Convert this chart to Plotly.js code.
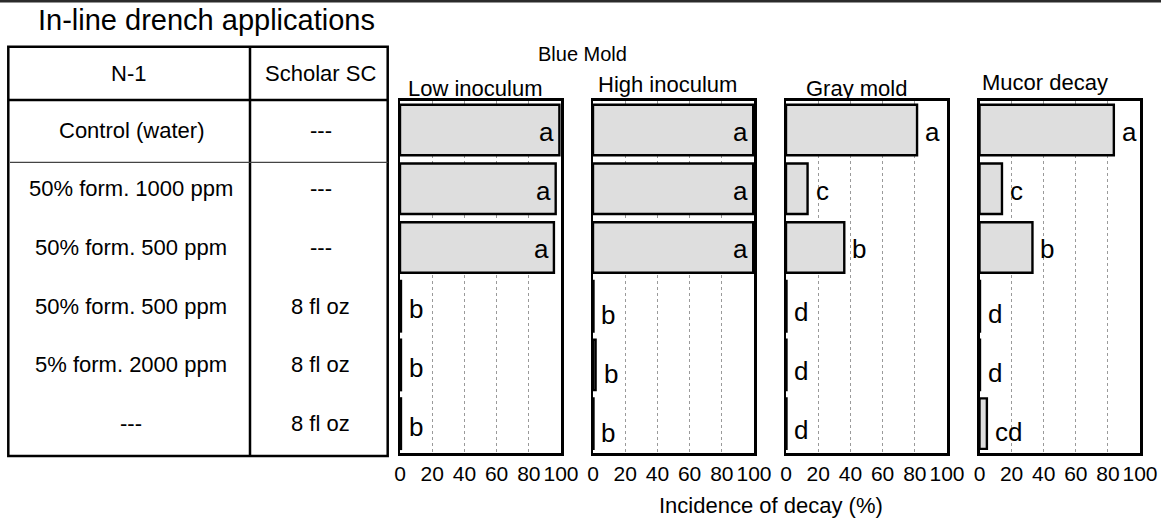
<!DOCTYPE html>
<html>
<head>
<meta charset="utf-8">
<script src="https://cdn.plot.ly/plotly-3.0.1.min.js"></script>
<style>
  html, body { margin: 0; padding: 0; background: #fff; }
  #chart { width: 1161px; height: 527px; }
</style>
</head>
<body>
<div id="chart"></div>
<script>
// ---------------- data ----------------
const categories = [
  "Control (water) | ---",
  "50% form. 1000 ppm | ---",
  "50% form. 500 ppm | ---",
  "50% form. 500 ppm | 8 fl oz",
  "5% form. 2000 ppm | 8 fl oz",
  "--- | 8 fl oz"
];
const n1Labels = ["Control (water)", "50% form. 1000 ppm", "50% form. 500 ppm",
                  "50% form. 500 ppm", "5% form. 2000 ppm", "---"];
const scholarLabels = ["---", "---", "---", "8 fl oz", "8 fl oz", "8 fl oz"];
const tableHeaders = ["N-1", "Scholar SC"];
const tableTitle = "In-line drench applications";
const groupTitle = "Blue Mold";
const panelTitles = ["Low inoculum", "High inoculum", "Gray mold", "Mucor decay"];
const xAxisTitle = "Incidence of decay (%)";
const tickVals = [0, 20, 40, 60, 80, 100];

const lowInoculum  = [99.0, 96.7, 95.6, 0.6, 0.6, 0.6];
const highInoculum = [99.5, 99.5, 99.5, 0.3, 1.6, 0.3];
const grayMold     = [81.4, 13.4, 36.2, 0.3, 0.3, 0.3];
const mucorDecay   = [83.7, 14.0, 33.0, 0.3, 0.3, 4.6];

const lowLetters   = ["a", "a", "a", "b", "b", "b"];
const highLetters  = ["a", "a", "a", "b", "b", "b"];
const grayLetters  = ["a", "c", "b", "d", "d", "d"];
const mucorLetters = ["a", "c", "b", "d", "d", "cd"];

// ---------------- layout helpers ----------------
const W = 1161, H = 527;
const px = x => x / W;
const py = y => 1 - y / H;
const FONT = "'Liberation Sans', Arial, sans-serif";

const panels = [
  {vals: lowInoculum,  letters: lowLetters,   x0: 400,   x1: 561,  title: panelTitles[0], tx: 475,  ty: 88, ly: -3},
  {vals: highInoculum, letters: highLetters,  x0: 593,   x1: 754,  title: panelTitles[1], tx: 667,  ty: 85, ly: -9},
  {vals: grayMold,     letters: grayLetters,  x0: 786,   x1: 947,  title: panelTitles[2], tx: 856,  ty: 88, ly: -6},
  {vals: mucorDecay,   letters: mucorLetters, x0: 979.5, x1: 1140, title: panelTitles[3], tx: 1045, ty: 83, ly: -8}
];
const yTop = 100.7, yBot = 453;

const traces = [];
const annotations = [];
const layout = {
  width: W, height: H,
  margin: {l: 0, r: 0, t: 0, b: 0},
  paper_bgcolor: "#fff", plot_bgcolor: "#fff",
  showlegend: false,
  font: {family: FONT, color: "#000"},
  annotations: annotations,
  shapes: []
};

panels.forEach((p, i) => {
  const n = i + 1;
  const xa = "x" + (n === 1 ? "" : n), ya = "y" + (n === 1 ? "" : n);
  traces.push({
    type: "bar", orientation: "h",
    x: p.vals, y: categories,
    xaxis: xa, yaxis: ya,
    width: 0.86,
    marker: {color: "#dedede", line: {color: "#000", width: 2.4}},
    hoverinfo: "x+y"
  });
  layout["xaxis" + (n === 1 ? "" : n)] = {
    domain: [px(p.x0), px(p.x1)],
    anchor: ya,
    range: [0, 100],
    tickvals: tickVals,
    tickangle: 0,
    ticks: "",
    tickfont: {family: FONT, size: 21, color: "#000"},
    showline: true, mirror: true, linecolor: "#000", linewidth: 2.5,
    showgrid: true, gridcolor: "#9a9a9a", griddash: "dot", gridwidth: 1,
    zeroline: false, fixedrange: true
  };
  layout["yaxis" + (n === 1 ? "" : n)] = {
    domain: [py(yBot), py(yTop)],
    anchor: xa,
    type: "category",
    categoryorder: "array", categoryarray: categories,
    autorange: "reversed",
    showticklabels: false, ticks: "",
    showline: true, mirror: true, linecolor: "#000", linewidth: 2.5,
    showgrid: false, zeroline: false, fixedrange: true
  };
  // significance letters
  p.vals.forEach((v, k) => {
    const inside = v > 90;
    annotations.push({
      xref: xa, yref: ya, x: v, y: categories[k],
      text: p.letters[k], showarrow: false,
      xanchor: inside ? "right" : "left",
      xshift: inside ? -3 : 6,
      yshift: k > 2 ? p.ly : -2,
      font: {family: FONT, size: 26, color: "#000"}
    });
  });
  // panel title
  annotations.push({
    xref: "paper", yref: "paper", x: px(p.tx), y: py(p.ty),
    text: p.title, showarrow: false, xanchor: "center", yanchor: "middle",
    font: {family: FONT, size: 22, color: "#000"}
  });
});

// group title and axis title
annotations.push({
  xref: "paper", yref: "paper", x: px(582), y: py(54),
  text: groupTitle, showarrow: false, xanchor: "center", yanchor: "middle",
  font: {family: FONT, size: 20, color: "#000"}
});
annotations.push({
  xref: "paper", yref: "paper", x: px(771), y: py(505),
  text: xAxisTitle, showarrow: false, xanchor: "center", yanchor: "middle",
  font: {family: FONT, size: 22, color: "#000"}
});

// ---------------- table ----------------
annotations.push({
  xref: "paper", yref: "paper", x: px(206), y: py(20),
  text: tableTitle, showarrow: false, xanchor: "center", yanchor: "middle",
  font: {family: FONT, size: 29, color: "#000"}
});
annotations.push({
  xref: "paper", yref: "paper", x: px(128), y: py(73),
  text: tableHeaders[0], showarrow: false, xanchor: "center", yanchor: "middle",
  font: {family: FONT, size: 22, color: "#000"}
});
annotations.push({
  xref: "paper", yref: "paper", x: px(321), y: py(73),
  text: tableHeaders[1], showarrow: false, xanchor: "center", yanchor: "middle",
  font: {family: FONT, size: 22, color: "#000"}
});
categories.forEach((c, k) => {
  annotations.push({
    xref: "paper", yref: "y", x: px(131), y: c,
    text: n1Labels[k], showarrow: false, xanchor: "center", yanchor: "middle",
    font: {family: FONT, size: 22, color: "#000"}
  });
  annotations.push({
    xref: "paper", yref: "y", x: px(321), y: c,
    text: scholarLabels[k], showarrow: false, xanchor: "center", yanchor: "middle",
    font: {family: FONT, size: 22, color: "#000"}
  });
});

const line = (x0, y0, x1, y1, w, col) => ({
  type: "line", xref: "paper", yref: "paper",
  x0: px(x0), y0: py(y0), x1: px(x1), y1: py(y1),
  line: {color: col || "#000", width: w}
});
layout.shapes.push(
  {type: "rect", xref: "paper", yref: "paper", x0: 0, x1: 1, y0: py(2.5), y1: 1,
   fillcolor: "#2b2b2b", line: {width: 0}},
  {type: "rect", xref: "paper", yref: "paper", x0: px(8.3), x1: px(387.7), y0: py(456), y1: py(46.7),
   line: {color: "#000", width: 2.5}},
  line(250, 46.7, 250, 456, 2.5),
  line(8.3, 100, 387.7, 100, 2.5),
  line(10, 162.3, 387.7, 162.3, 1.3, "#444")
);

Plotly.newPlot("chart", traces, layout, {displayModeBar: false, staticPlot: true});
</script>
</body>
</html>
